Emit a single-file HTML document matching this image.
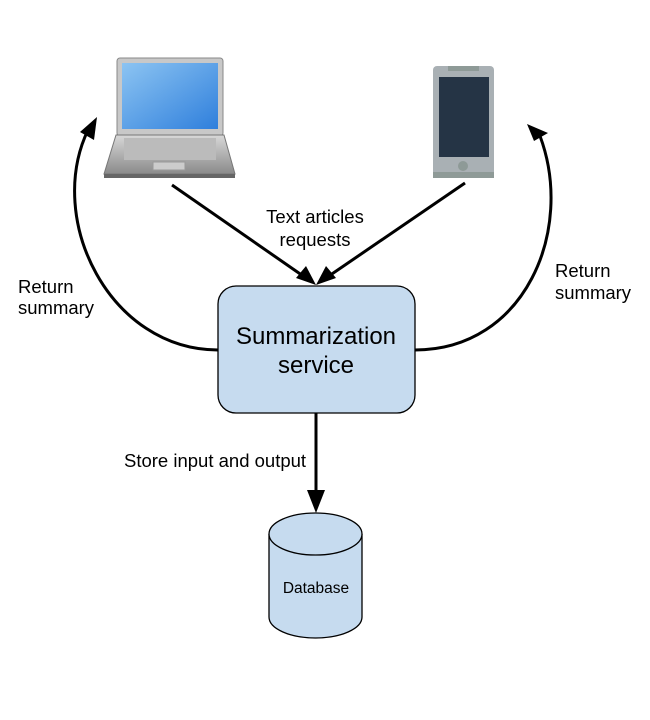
<!DOCTYPE html>
<html><head><style>
html,body{margin:0;padding:0;background:#fff;}
svg{display:block;font-family:"Liberation Sans",Arial,sans-serif;}
</style></head><body>
<svg width="650" height="720" viewBox="0 0 650 720" xmlns="http://www.w3.org/2000/svg">
<defs>
<linearGradient id="scr" x1="0" y1="0" x2="1" y2="1"><stop offset="0" stop-color="#8cc4f2"/><stop offset="1" stop-color="#2f7fdc"/></linearGradient>
<linearGradient id="base" x1="0" y1="0" x2="0" y2="1"><stop offset="0" stop-color="#d8d8d8"/><stop offset="1" stop-color="#8a8a8a"/></linearGradient>
</defs>
<!-- laptop -->
<rect x="117" y="58" width="106" height="78" rx="3" fill="#c8c8c8" stroke="#888"/>
<rect x="122" y="63" width="96" height="66" fill="url(#scr)"/>
<path d="M116,135 L224,135 L235,174 L104,174 Z" fill="url(#base)" stroke="#777"/>
<rect x="104" y="174" width="131" height="4" fill="#666"/>
<rect x="124" y="138" width="92" height="22" fill="#bbb"/>
<rect x="153" y="162" width="32" height="8" fill="#ccc" stroke="#999"/>
<!-- phone -->
<rect x="433" y="66" width="61" height="112" rx="4" fill="#a9b0b4"/>
<rect x="448" y="66" width="31" height="5" fill="#8e9a97"/>
<rect x="439" y="77" width="50" height="80" fill="#253445"/>
<rect x="433" y="172" width="61" height="6" fill="#8e9a97"/>
<circle cx="463" cy="166" r="5" fill="#8e9a97"/>
<!-- arrows -->
<g stroke="#000" stroke-width="3" fill="none">
<line x1="172" y1="185" x2="306" y2="278"/>
<line x1="465" y1="183" x2="326" y2="278"/>
<path d="M218,350 C110,350 45,220 88,130"/>
<path d="M415,350 C525,350 575,230 540,136"/>
<line x1="316" y1="413" x2="316" y2="495"/>
</g>
<g fill="#000">
<polygon points="316,285 296,278 306,266"/>
<polygon points="316,285 326,266 336,278"/>
<polygon points="97,117 94,140 80,132"/>
<polygon points="527,124 548,133 534,141"/>
<polygon points="316,513 307,490 325,490"/>
</g>
<!-- box -->
<rect x="218" y="286" width="197" height="127" rx="18" fill="#c6dbef" stroke="#000" stroke-width="1.3"/>
<text x="316" y="344" font-size="24" text-anchor="middle">Summarization</text>
<text x="316" y="373" font-size="24" text-anchor="middle">service</text>
<!-- db -->
<path d="M269,534 L269,617 A46.5,21 0 0 0 362,617 L362,534" fill="#c6dbef" stroke="#000" stroke-width="1.3"/>
<ellipse cx="315.5" cy="534" rx="46.5" ry="21" fill="#c6dbef" stroke="#000" stroke-width="1.3"/>
<text x="316" y="593" font-size="15.5" text-anchor="middle">Database</text>
<!-- labels -->
<g font-size="18.5">
<text x="315" y="223" text-anchor="middle">Text articles</text>
<text x="315" y="246" text-anchor="middle">requests</text>
<text x="18" y="293">Return</text>
<text x="18" y="314">summary</text>
<text x="555" y="277">Return</text>
<text x="555" y="299">summary</text>
<text x="124" y="467">Store input and output</text>
</g>
</svg>
</body></html>
